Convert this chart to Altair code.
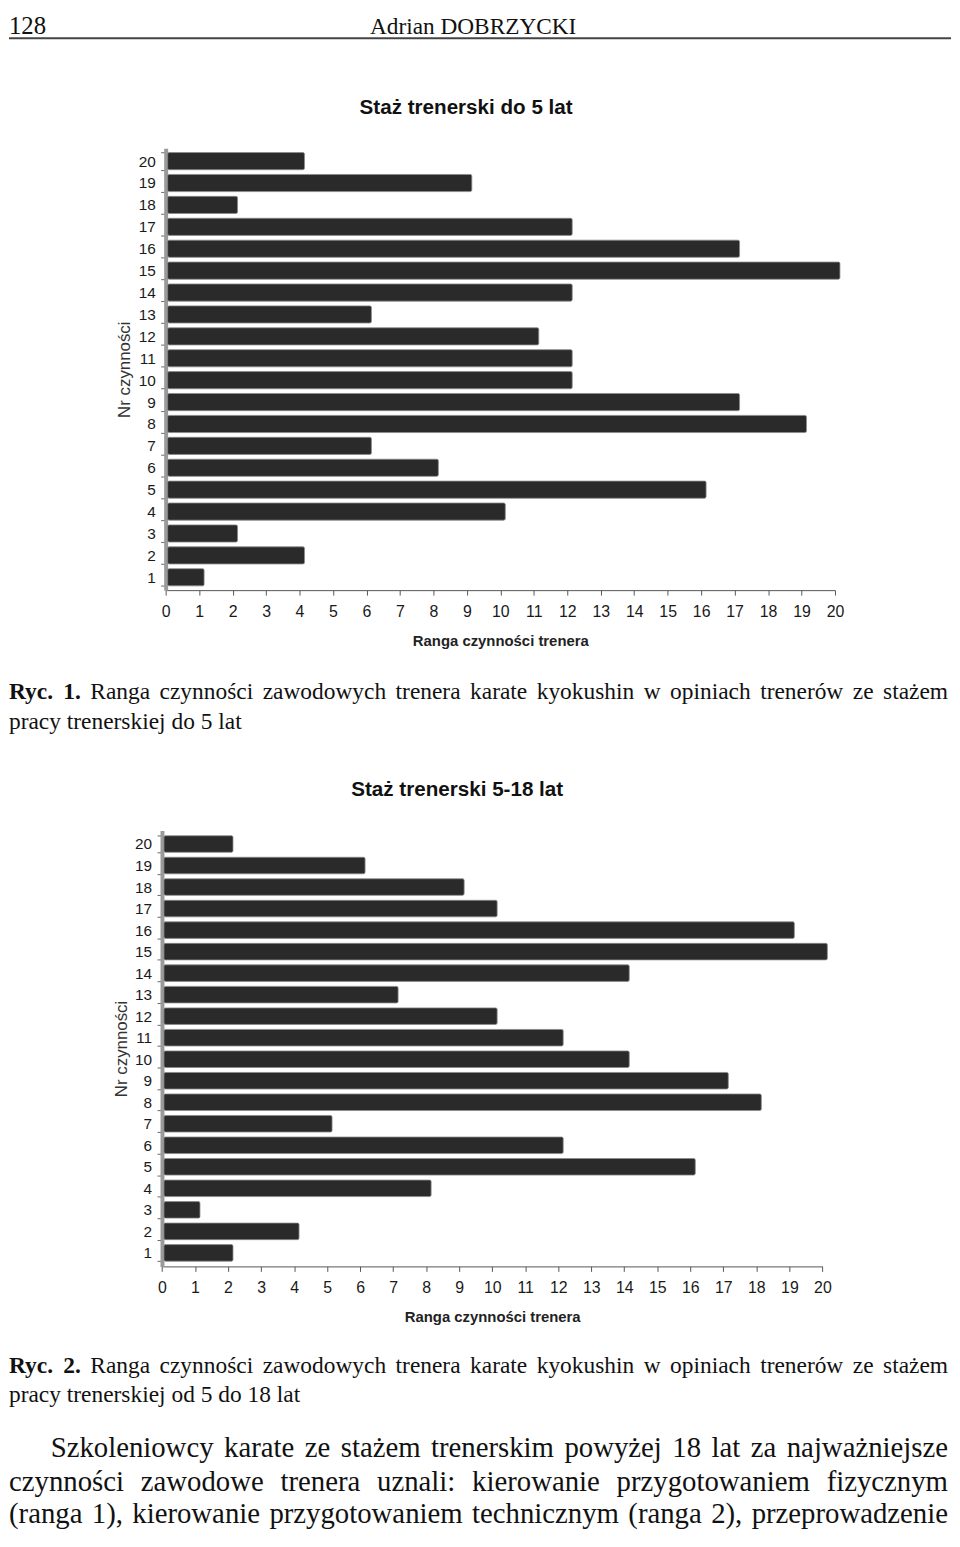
import altair as alt
import pandas as pd

# ---------------- data ----------------
nr = [1, 2, 3, 4, 5, 6, 7, 8, 9, 10, 11, 12, 13, 14, 15, 16, 17, 18, 19, 20]
ranga_do_5 = [1, 4, 2, 10, 16, 8, 6, 19, 17, 12, 12, 11, 6, 12, 20, 17, 12, 2, 9, 4]
ranga_5_18 = [2, 4, 1, 8, 16, 12, 5, 18, 17, 14, 12, 10, 7, 14, 20, 19, 10, 9, 6, 2]
x_ticks = [0, 1, 2, 3, 4, 5, 6, 7, 8, 9, 10, 11, 12, 13, 14, 15, 16, 17, 18, 19, 20]

title_1 = "Staż trenerski do 5 lat"
title_2 = "Staż trenerski 5-18 lat"
x_title = "Ranga czynności trenera"
y_title = "Nr czynności"
header_page = "128"
header_author = "Adrian DOBRZYCKI"
caption_1 = ["Ryc. 1. Ranga czynności zawodowych trenera karate kyokushin w opiniach trenerów ze stażem",
             "pracy trenerskiej do 5 lat"]
caption_2 = ["Ryc. 2. Ranga czynności zawodowych trenera karate kyokushin w opiniach trenerów ze stażem",
             "pracy trenerskiej od 5 do 18 lat"]
paragraph = ["Szkoleniowcy karate ze stażem trenerskim powyżej 18 lat za najważniejsze",
             "czynności zawodowe trenera uznali: kierowanie przygotowaniem fizycznym",
             "(ranga 1), kierowanie przygotowaniem technicznym (ranga 2), przeprowadzenie"]

# ---------------- layout helpers ----------------
W = 944
SERIF = "Liberation Serif"
SANS = "Liberation Sans"
CAP_FS = 23.6
PARA_FS = 29

TNR = {' ': 250, '(': 333, ')': 333, ',': 250, '.': 250, ':': 278, '-': 333,
       'a': 444, 'b': 500, 'c': 444, 'd': 500, 'e': 444, 'f': 333, 'g': 500, 'h': 500,
       'i': 278, 'j': 278, 'k': 500, 'l': 278, 'm': 778, 'n': 500, 'o': 500, 'p': 500,
       'q': 500, 'r': 333, 's': 389, 't': 278, 'u': 500, 'v': 500, 'w': 722, 'x': 500,
       'y': 500, 'z': 444, 'ą': 444, 'ę': 444, 'ć': 444, 'ł': 278, 'ń': 500, 'ó': 500,
       'ś': 389, 'ź': 444, 'ż': 444,
       'A': 722, 'B': 667, 'C': 667, 'D': 722, 'E': 611, 'F': 556, 'G': 722, 'H': 722,
       'I': 333, 'J': 389, 'K': 722, 'L': 611, 'M': 889, 'N': 722, 'O': 722, 'P': 556,
       'R': 667, 'S': 556, 'T': 611, 'U': 722, 'W': 944, 'Y': 722, 'Z': 611}
TNR_B = {'R': 722, 'y': 500, 'c': 444, '.': 250}


def text_width(s, fs, bold=False):
    tot = 0
    for ch in s:
        if bold and ch in TNR_B:
            tot += TNR_B[ch]
        else:
            tot += TNR.get(ch, 500)
    return tot / 1000.0 * fs


def layout_line(line, x0, x1, y, fs, style, justify, bold_words=0):
    words = line.split(' ')
    widths = [text_width(w, fs, i < bold_words) for i, w in enumerate(words)]
    if justify and len(words) > 1:
        gap = (x1 - x0 - sum(widths)) / (len(words) - 1)
    else:
        gap = 0.25 * fs
    out = []
    x = x0
    for i, (w, wd) in enumerate(zip(words, widths)):
        out.append(dict(x=x, y=y, text=w, style=(style + "_b") if i < bold_words else style))
        x += wd + gap
    return out


STYLES = {
    "cap": dict(font=SERIF, fontSize=CAP_FS, fontWeight="normal", align="left"),
    "cap_b": dict(font=SERIF, fontSize=CAP_FS, fontWeight="bold", align="left"),
    "para": dict(font=SERIF, fontSize=PARA_FS, fontWeight="normal", align="left"),
    "num": dict(font=SERIF, fontSize=25, fontWeight="normal", align="left", baseline="top"),
    "head": dict(font=SERIF, fontSize=23.5, fontWeight="normal", align="left", baseline="top"),
    "title": dict(font=SANS, fontSize=20.8, fontWeight="bold", align="center", baseline="middle"),
}


def text_panel(items, height, extra=None):
    df = pd.DataFrame(items)
    layers = []
    for st, sdef in STYLES.items():
        sub = df[df["style"] == st]
        if len(sub) == 0:
            continue
        kw = dict(sdef)
        kw.setdefault("baseline", "alphabetic")
        layers.append(
            alt.Chart(sub).mark_text(color="#111", **kw).encode(
                x=alt.X("x:Q", scale=None, axis=None),
                y=alt.Y("y:Q", scale=None, axis=None),
                text="text:N",
            )
        )
    if extra is not None:
        layers = extra + layers
    return alt.layer(*layers).properties(width=W, height=height)


def bar_panel(values, x_range, height, p_inner, p_outer):
    df = pd.DataFrame({"nr": nr, "ranga": values})
    return alt.Chart(df).mark_bar(
        color="#2a2a2a", stroke="#8a8a8a", strokeWidth=0.8,
        xOffset=5, x2Offset=2, cornerRadiusEnd=1.5,
    ).encode(
        x=alt.X("ranga:Q",
                scale=alt.Scale(domain=[0, 20], range=x_range, nice=False, zero=True),
                axis=alt.Axis(values=x_ticks, format="d", grid=False, tickSize=5,
                              labelFlush=False, labelOverlap=False,
                              labelPadding=8.5, labelFont=SANS, labelFontSize=16,
                              labelColor="#1a1a1a", domainColor="#555", tickColor="#555",
                              title=x_title, titleFont=SANS, titleFontSize=15,
                              titleFontWeight="bold", titleColor="#222",
                              titleY=51, titleBaseline="middle")),
        x2=alt.X2(datum=0),
        y=alt.Y("nr:O", sort="descending",
                scale=alt.Scale(paddingInner=p_inner, paddingOuter=p_outer),
                axis=alt.Axis(offset=-x_range[0], tickBand="extent", tickOffset=3,
                              tickSize=5, tickColor="#666", labelPadding=5.5,
                              labelFont=SANS, labelFontSize=15.5, labelColor="#1a1a1a",
                              domainColor="#9a9a9a", domainWidth=4,
                              title=y_title, titleFont=SANS, titleFontSize=17,
                              titleFontWeight="normal", titleColor="#333",
                              titleX=-41, titleY=height / 2, titleAngle=270,
                              titleAlign="center", titleBaseline="middle")),
    ).properties(width=W, height=height)


# ---------------- panels ----------------
H1, H2, H3, H4, H5 = 134.7, 445.6, 241.4, 439.6, 263.7

items1 = [dict(x=0, y=0, text=header_page, style="num"),
          dict(x=364, y=1, text=header_author, style="head"),
          dict(x=461, y=94, text=title_1, style="title")]
rule = alt.Chart(pd.DataFrame({"a": [0]})).mark_rule(color="#444", strokeWidth=2).encode(
    x=alt.value(0), x2=alt.value(950), y=alt.value(24))
panel1 = text_panel(items1, H1, extra=[rule])

items3 = (layout_line(caption_1[0], 0, 947, 109.7, CAP_FS, "cap", True, bold_words=2)
          + layout_line(caption_1[1], 0, 947, 139.7, CAP_FS, "cap", False)
          + [dict(x=452, y=201.7, text=title_2, style="title")])
panel3 = text_panel(items3, H3)

items5 = (layout_line(caption_2[0], 0, 947, 106.7, CAP_FS, "cap", True, bold_words=2)
          + layout_line(caption_2[1], 0, 947, 136.7, CAP_FS, "cap", False)
          + layout_line(paragraph[0], 42, 947, 191.7, PARA_FS, "para", True)
          + layout_line(paragraph[1], 0, 947, 225.7, PARA_FS, "para", True)
          + layout_line(paragraph[2], 0, 947, 258.5, PARA_FS, "para", True))
panel5 = text_panel(items5, H5)

panel2 = bar_panel(ranga_do_5, [158, 833], H2, 0.217, 0.195)
panel4 = bar_panel(ranga_5_18, [154.3, 820.3], H4, 0.231, 0.244)

chart = alt.vconcat(panel1, panel2, panel3, panel4, panel5, spacing=0, bounds="flush").properties(
    padding=0, background="white"
).configure_view(stroke=None)

chart.save("out.html", embed_options={"renderer": "svg", "actions": False})
